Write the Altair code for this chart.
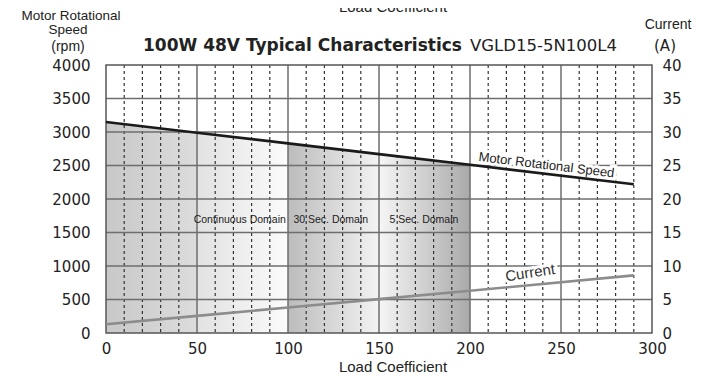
import altair as alt
import pandas as pd

# ---------------- data ----------------
load = [0, 50, 100, 150, 200, 290]
speed_rpm = [3150, 2990, 2830, 2670, 2510, 2220]
current_a = [1.3, 2.55, 3.8, 5.05, 6.3, 8.6]

x_ticks = [0, 50, 100, 150, 200, 250, 300]
speed_ticks = [0, 500, 1000, 1500, 2000, 2500, 3000, 3500, 4000]
current_ticks = [0, 5, 10, 15, 20, 25, 30, 35, 40]
major_x = [50, 100, 150, 200, 250]
minor_x = [10, 20, 30, 40, 60, 70, 80, 90, 110, 120, 130, 140,
           160, 170, 180, 190, 210, 220, 230, 240, 260, 270, 280, 290]
major_y = [500, 1000, 1500, 2000, 2500, 3000, 3500]

seg_start = [0, 50, 100, 150]
seg_end = [50, 100, 150, 200]
seg_color_left = ["#c8c8c8", "#e2e2e2", "#bcbcbc", "#f6f6f6"]
seg_color_right = ["#dcdcdc", "#fbfbfb", "#f3f3f3", "#a9a9a9"]

domain_labels = ["Continuous Domain", "30 Sec. Domain", "5 Sec. Domain"]
domain_label_load = [73.5, 123.5, 174.7]
domain_label_rpm = [1680, 1680, 1680]

speed_label = ["Motor Rotational Speed"]
speed_label_load = [242]
speed_label_rpm = [2505]
current_label = ["Current"]
current_label_load = [233]
current_label_amp = [9.0]

title_main = "100W 48V Typical Characteristics"
title_model = "VGLD15-5N100L4"
left_title = ["Motor Rotational", "Speed", "(rpm)"]
right_title = ["Current", "(A)"]
x_title = "Load Coefficient"

# ---------------- layout ----------------
W, H = 546, 268
PAD_L, PAD_T = 98, 57
PAD_R = 699 - PAD_L - W
PAD_B = 366 - PAD_T - H

df = pd.DataFrame({"load": load, "speed": speed_rpm, "current": current_a})
xs = alt.Scale(domain=[0, 300], nice=False, zero=False)
ys = alt.Scale(domain=[0, 4000], nice=False, zero=True)
cs = alt.Scale(domain=[0, 40], nice=False, zero=True)

LBL = dict(grid=False, ticks=False, domain=False, labelFont="DejaVu Sans", labelFontSize=15,
           labelColor="#222", title=None, labelFlush=False, labelOverlap=False, format="d")
X_AX = alt.Axis(values=x_ticks, labelPadding=8, **LBL)
Y_AX = alt.Axis(values=speed_ticks, labelPadding=16, orient="left", **LBL)
C_AX = alt.Axis(values=current_ticks, labelPadding=10, orient="right", **LBL)

def X(f):
    return alt.X(f, scale=xs, axis=X_AX)

def Y(f):
    return alt.Y(f, scale=ys, axis=Y_AX)

def C(f):
    return alt.Y(f, scale=cs, axis=C_AX)

one = pd.DataFrame({"k": [0]})

def txt(s, x, y, size=15, font="Liberation Sans", weight="normal", align="center",
        baseline="middle", color="#222"):
    return alt.Chart(pd.DataFrame({"t": [s]})).mark_text(
        font=font, fontSize=size, fontWeight=weight, align=align, baseline=baseline, color=color
    ).encode(text="t:N", x=alt.value(x), y=alt.value(y))

# shaded domains
areas = []
for s, e, c0, c1 in zip(seg_start, seg_end, seg_color_left, seg_color_right):
    grad = alt.Gradient(gradient="linear",
                        stops=[alt.GradientStop(color=c0, offset=0),
                               alt.GradientStop(color=c1, offset=1)],
                        x1=0, x2=1, y1=0, y2=0)
    areas.append(
        alt.Chart(df).transform_filter(
            (alt.datum.load >= s) & (alt.datum.load <= e)
        ).mark_area(color=grad, line=False).encode(x=X("load:Q"), y=Y("speed:Q"))
    )

minor_rules = alt.Chart(pd.DataFrame({"x": minor_x})).mark_rule(
    color="#333", strokeWidth=1.2, strokeDash=[3, 3]
).encode(x=X("x:Q"), y=alt.value(0), y2=alt.value(H))

major_rules = alt.Chart(pd.DataFrame({"x": major_x})).mark_rule(
    color="#6e6e6e", strokeWidth=1.5
).encode(x=X("x:Q"), y=alt.value(0), y2=alt.value(H))

h_rules = alt.Chart(pd.DataFrame({"y": major_y})).mark_rule(
    color="#6e6e6e", strokeWidth=1.5
).encode(y=Y("y:Q"), x=alt.value(0), x2=alt.value(W))

border = alt.Chart(one).mark_rect(
    fillOpacity=0, stroke="#555", strokeWidth=1.5
).encode(x=alt.value(0), x2=alt.value(W), y=alt.value(0), y2=alt.value(H))

dom_df = pd.DataFrame({"t": domain_labels, "x": domain_label_load, "y": domain_label_rpm})
dom_text = alt.Chart(dom_df).mark_text(
    font="Liberation Sans", fontSize=10.5, color="#222"
).encode(x=X("x:Q"), y=Y("y:Q"), text="t:N")

sp_df = pd.DataFrame({"t": speed_label, "x": speed_label_load, "y": speed_label_rpm})
sp_halo = alt.Chart(sp_df).mark_text(
    font="Liberation Sans", fontSize=13, angle=7, stroke="white", strokeWidth=6, color="white"
).encode(x=X("x:Q"), y=Y("y:Q"), text="t:N")
sp_text = alt.Chart(sp_df).mark_text(
    font="Liberation Sans", fontSize=13, angle=7, color="#222"
).encode(x=X("x:Q"), y=Y("y:Q"), text="t:N")

speed_line = alt.Chart(df).mark_line(color="#1a1a1a", strokeWidth=2.6).encode(
    x=X("load:Q"), y=Y("speed:Q"))

texts = [
    txt(left_title[0], -35, -49.5, size=13.5),
    txt(left_title[1], -38, -35.5, size=13.5),
    txt(left_title[2], -38, -18, size=14),
    txt(right_title[0], 562, -40, size=14),
    txt(right_title[1], 559, -19, size=15, font="DejaVu Sans"),
    txt(title_main, 37, -14, size=17, font="DejaVu Sans", weight="bold", align="left", baseline="alphabetic"),
    txt(title_model, 364, -14, size=16.5, font="DejaVu Sans", align="left", baseline="alphabetic"),
    txt(x_title, 287, 302, size=15),
    txt(x_title, 287, -53, size=15, baseline="alphabetic"),
]

speed_group = alt.layer(*areas, minor_rules, major_rules, h_rules, border,
                        dom_text, sp_halo, sp_text, speed_line, *texts)

cur_df = pd.DataFrame({"t": current_label, "x": current_label_load, "y": current_label_amp})
cur_halo = alt.Chart(cur_df).mark_text(
    font="Liberation Sans", fontSize=15, angle=351, stroke="white", strokeWidth=6, color="white"
).encode(x=X("x:Q"), y=C("y:Q"), text="t:N")
cur_text = alt.Chart(cur_df).mark_text(
    font="Liberation Sans", fontSize=15, angle=351, color="#333"
).encode(x=X("x:Q"), y=C("y:Q"), text="t:N")
current_line = alt.Chart(df).mark_line(color="#8c8c8c", strokeWidth=2.6).encode(
    x=X("load:Q"), y=C("current:Q"))
current_group = alt.layer(cur_halo, cur_text, current_line)

chart = alt.layer(speed_group, current_group).resolve_scale(y="independent").properties(
    width=W, height=H,
    autosize=alt.AutoSizeParams(type="none"),
    padding={"left": PAD_L, "top": PAD_T, "right": PAD_R, "bottom": PAD_B},
    background="white",
).configure_view(stroke=None)

chart.save("out.html", embed_options={"renderer": "svg", "actions": False})
